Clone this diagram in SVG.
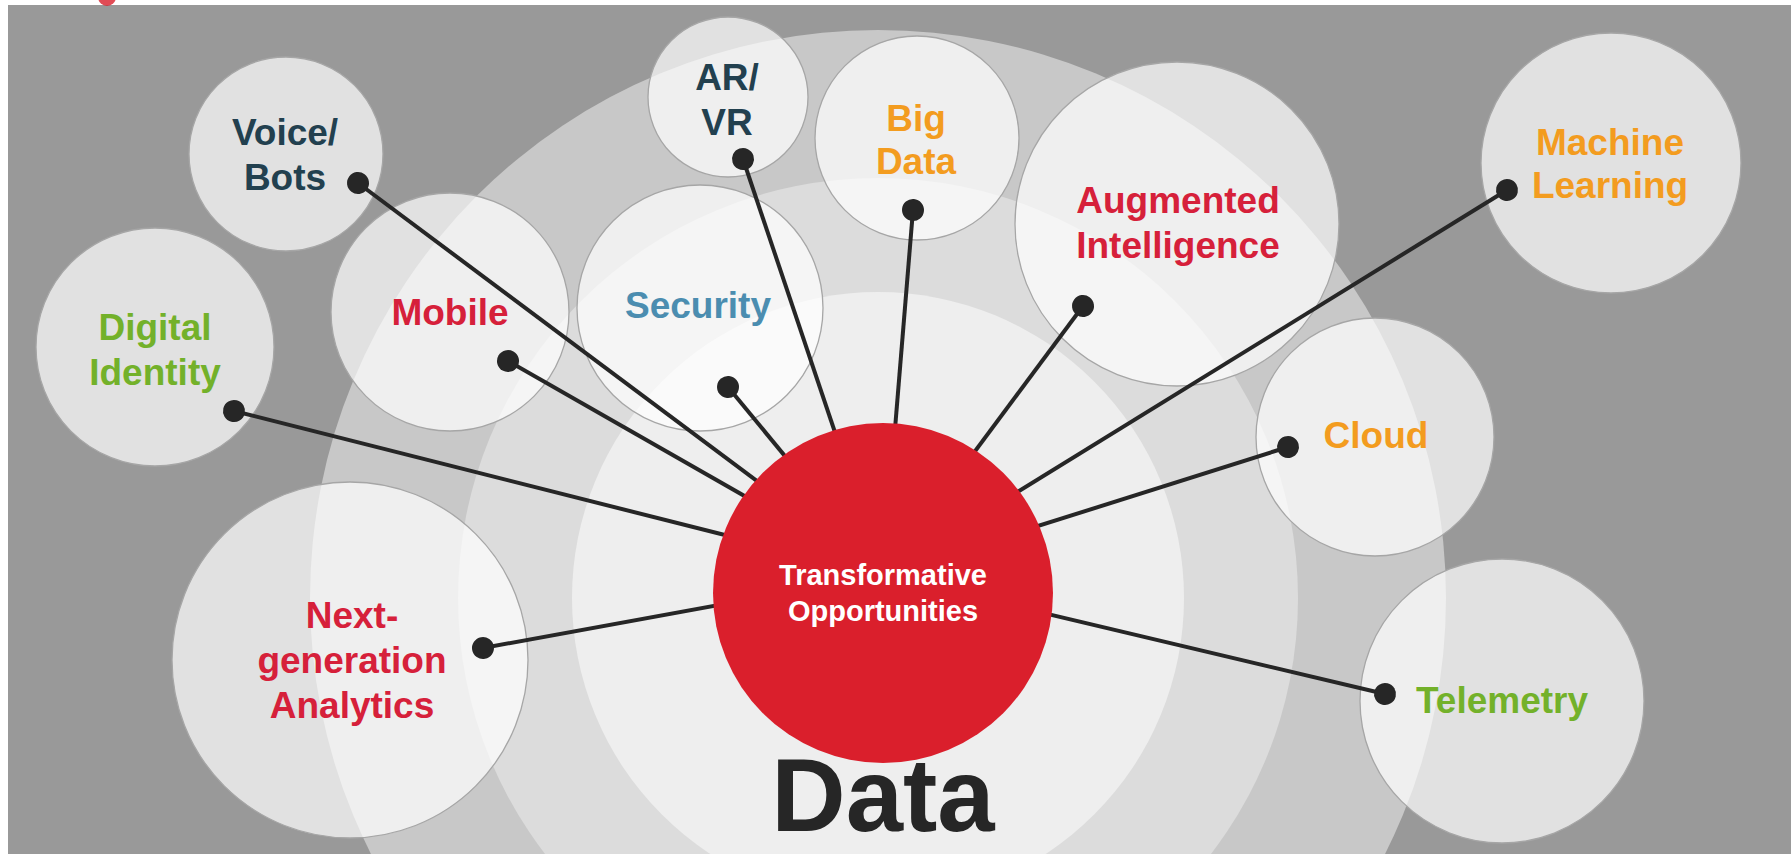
<svg xmlns="http://www.w3.org/2000/svg" width="1791" height="854" viewBox="0 0 1791 854">
<defs>
<style>
.node{fill:#ffffff;fill-opacity:0.7;stroke:#a6a6a6;stroke-width:1.3}
.lbl{font-family:"Liberation Sans",Arial,Helvetica,sans-serif;font-weight:bold;font-size:37px;text-anchor:middle}
.navy{fill:#22404f}
.orange{fill:#f39c1f}
.red{fill:#d6203a}
.blue{fill:#4b8db0}
.green{fill:#73b12a}
.conn{stroke:#262626;stroke-width:4;fill:none;marker-start:url(#dot)}
</style>
<marker id="dot" markerUnits="userSpaceOnUse" markerWidth="24" markerHeight="24" refX="12" refY="12" orient="auto">
<circle cx="12" cy="12" r="11" fill="#262626"/>
</marker>
</defs>
<rect x="0" y="0" width="1791" height="854" fill="#ffffff"/>
<rect x="8" y="5" width="1783" height="849" fill="#999999"/>
<circle cx="107" cy="-3" r="9" fill="#da1f2c" opacity="0.8"/>
<g id="rings">
<circle cx="878" cy="598" r="568" fill="#c8c8c8"/>
<circle cx="878" cy="598" r="420" fill="#dcdcdc"/>
<circle cx="878" cy="598" r="306" fill="#eeeeee"/>
</g>
<g id="node-voice-bots">
<circle class="node" cx="286" cy="154" r="97"/>
<text class="lbl navy" x="285" y="145">Voice/</text>
<text class="lbl navy" x="285" y="190">Bots</text>
</g>
<g id="node-ar-vr">
<circle class="node" cx="728" cy="97" r="80"/>
<text class="lbl navy" x="727" y="90">AR/</text>
<text class="lbl navy" x="727" y="135">VR</text>
</g>
<g id="node-big-data">
<circle class="node" cx="917" cy="138" r="102"/>
<text class="lbl orange" x="916" y="131">Big</text>
<text class="lbl orange" x="916" y="174">Data</text>
</g>
<g id="node-augmented-intelligence">
<circle class="node" cx="1177" cy="224" r="162"/>
<text class="lbl red" x="1178" y="213">Augmented</text>
<text class="lbl red" x="1178" y="258">Intelligence</text>
</g>
<g id="node-machine-learning">
<circle class="node" cx="1611" cy="163" r="130"/>
<text class="lbl orange" x="1610" y="155">Machine</text>
<text class="lbl orange" x="1610" y="198">Learning</text>
</g>
<g id="node-cloud">
<circle class="node" cx="1375" cy="437" r="119"/>
<text class="lbl orange" x="1376" y="448">Cloud</text>
</g>
<g id="node-telemetry">
<circle class="node" cx="1502" cy="701" r="142"/>
<text class="lbl green" x="1502" y="713">Telemetry</text>
</g>
<g id="node-next-generation-analytics">
<circle class="node" cx="350" cy="660" r="178"/>
<text class="lbl red" x="352" y="628">Next-</text>
<text class="lbl red" x="352" y="673">generation</text>
<text class="lbl red" x="352" y="718">Analytics</text>
</g>
<g id="node-digital-identity">
<circle class="node" cx="155" cy="347" r="119"/>
<text class="lbl green" x="155" y="340">Digital</text>
<text class="lbl green" x="155" y="385">Identity</text>
</g>
<g id="node-mobile">
<circle class="node" cx="450" cy="312" r="119"/>
<text class="lbl red" x="450" y="325">Mobile</text>
</g>
<g id="node-security">
<circle class="node" cx="700" cy="308" r="123"/>
<text class="lbl blue" x="698" y="318">Security</text>
</g>
<g id="connectors">
<line class="conn" x1="358" y1="183" x2="883" y2="575"/>
<line class="conn" x1="743" y1="159" x2="883" y2="575"/>
<line class="conn" x1="913" y1="210" x2="883" y2="575"/>
<line class="conn" x1="1083" y1="306" x2="883" y2="575"/>
<line class="conn" x1="1507" y1="190" x2="883" y2="575"/>
<line class="conn" x1="1288" y1="447" x2="883" y2="575"/>
<line class="conn" x1="1385" y1="694" x2="883" y2="575"/>
<line class="conn" x1="483" y1="648" x2="883" y2="575"/>
<line class="conn" x1="234" y1="411" x2="883" y2="575"/>
<line class="conn" x1="508" y1="361" x2="883" y2="575"/>
<line class="conn" x1="728" y1="387" x2="883" y2="575"/>
</g>
<g id="node-transformative-opportunities">
<circle cx="883" cy="593" r="170" fill="#da1f2c"/>
<text class="lbl" x="883" y="585" style="font-size:29px;fill:#ffffff">Transformative</text>
<text class="lbl" x="883" y="621" style="font-size:29px;fill:#ffffff">Opportunities</text>
</g>
<text id="data-title" x="883" y="831" style="font-family:'Liberation Sans',Arial,Helvetica,sans-serif;font-weight:bold;font-size:103px;fill:#262626;text-anchor:middle">Data</text>
</svg>
